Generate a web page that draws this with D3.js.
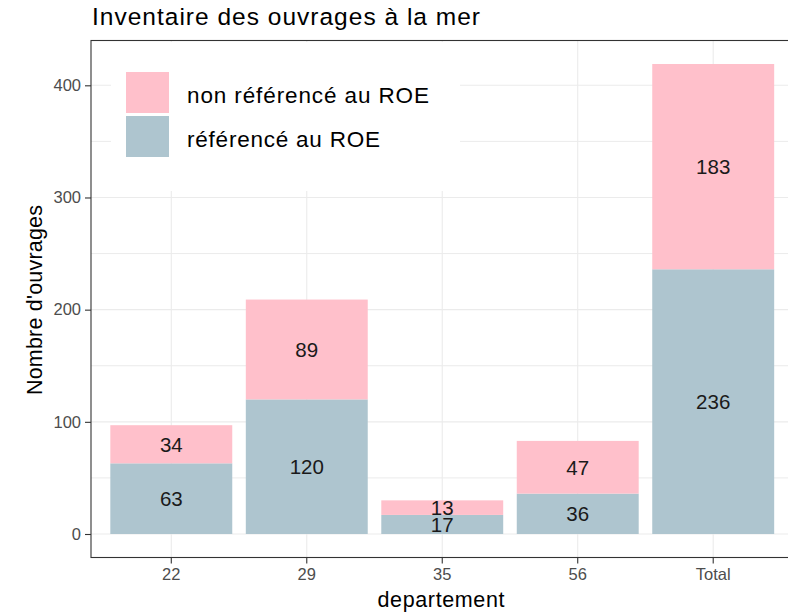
<!DOCTYPE html>
<html>
<head>
<meta charset="utf-8">
<script src="https://cdn.jsdelivr.net/npm/d3@7"></script>
<style>
  body { margin: 0; background: #fff; }
  svg { display: block; font-family: "Liberation Sans", Arial, sans-serif; }
</style>
</head>
<body>
<svg id="chart" width="788" height="613"></svg>
<script>
// data
const departements = ["22", "29", "35", "56", "Total"];
const referenced = [63, 120, 17, 36, 236];
const nonReferenced = [34, 89, 13, 47, 183];
const seriesNames = ["référencé au ROE", "non référencé au ROE"];
const yTicks = [0, 100, 200, 300, 400];
const yMinor = [50, 150, 250, 350];

const colors = {"référencé au ROE": "#aec5cf", "non référencé au ROE": "#ffc0cb"};

const svg = d3.select("#chart");
const panel = {left: 91, top: 40.5, bottom: 557.5};

const rows = departements.map((d, i) => ({
    dep: d,
    "référencé au ROE": referenced[i],
    "non référencé au ROE": nonReferenced[i]
}));

const stacked = d3.stack().keys(seriesNames)(rows);

// ggplot style expansion on both axes
const x = d3.scaleBand()
    .domain(departements)
    .range([90, 794.5])
    .paddingInner(0.1)
    .paddingOuter(0.15);

const maxTotal = d3.max(rows, r => r["référencé au ROE"] + r["non référencé au ROE"]);
const y = d3.scaleLinear()
    .domain([-0.05 * maxTotal, maxTotal * 1.05])
    .range([panel.bottom, panel.top]);

// grid
const grid = svg.append("g");
grid.selectAll("line.minor")
    .data(yMinor)
    .enter()
    .append("line")
    .attr("x1", panel.left).attr("x2", 788)
    .attr("y1", d => y(d)).attr("y2", d => y(d))
    .attr("stroke", "#ebebeb").attr("stroke-width", 1);
grid.selectAll("line.major")
    .data(yTicks)
    .enter()
    .append("line")
    .attr("x1", panel.left).attr("x2", 788)
    .attr("y1", d => y(d)).attr("y2", d => y(d))
    .attr("stroke", "#ebebeb").attr("stroke-width", 1.1);
grid.selectAll("line.vert")
    .data(departements)
    .enter()
    .append("line")
    .attr("x1", d => x(d) + x.bandwidth() / 2).attr("x2", d => x(d) + x.bandwidth() / 2)
    .attr("y1", panel.top).attr("y2", panel.bottom)
    .attr("stroke", "#ebebeb").attr("stroke-width", 1.1);

// bars
const layers = svg.append("g").selectAll("g")
    .data(stacked)
    .enter()
    .append("g")
    .attr("fill", d => colors[d.key]);

layers.selectAll("rect")
    .data(d => d)
    .enter()
    .append("rect")
    .attr("x", d => x(d.data.dep))
    .attr("width", x.bandwidth())
    .attr("y", d => y(d[1]))
    .attr("height", d => y(d[0]) - y(d[1]));

// value labels in the middle of each segment
const labels = svg.append("g");
stacked.forEach(function (layer) {
    labels.selectAll(null)
        .data(layer)
        .enter()
        .append("text")
        .attr("x", d => x(d.data.dep) + x.bandwidth() / 2)
        .attr("y", d => y((d[0] + d[1]) / 2))
        .attr("dy", "0.36em")
        .attr("text-anchor", "middle")
        .attr("font-size", 20.5)
        .attr("fill", "#1a1a1a")
        .text(d => d[1] - d[0]);
});

// legend inside the panel
const legend = svg.append("g");
legend.append("rect")
    .attr("x", 111).attr("y", 42)
    .attr("width", 349).attr("height", 149)
    .attr("fill", "#fff");
const legendOrder = ["non référencé au ROE", "référencé au ROE"];
const legendLen = [242, 193];
legendOrder.forEach(function (name, i) {
    const top = 72 + i * 44;
    legend.append("rect")
        .attr("x", 126).attr("y", top)
        .attr("width", 43).attr("height", 41)
        .attr("fill", colors[name]);
    legend.append("text")
        .attr("x", 187).attr("y", top + 31)
        .attr("font-size", 22.5)
        .attr("fill", "#000")
        .attr("textLength", legendLen[i])
        .attr("lengthAdjust", "spacing")
        .text(name);
});

// panel border
svg.append("rect")
    .attr("x", panel.left).attr("y", panel.top)
    .attr("width", 800).attr("height", panel.bottom - panel.top)
    .attr("fill", "none")
    .attr("stroke", "#333").attr("stroke-width", 1.1);

// axes
const yAxis = svg.append("g")
    .attr("transform", `translate(${panel.left},0)`)
    .call(d3.axisLeft(y).tickValues(yTicks).tickSize(6).tickPadding(4));
const xAxis = svg.append("g")
    .attr("transform", `translate(0,${panel.bottom})`)
    .call(d3.axisBottom(x).tickSize(6).tickPadding(5));

[yAxis, xAxis].forEach(function (ax) {
    ax.select(".domain").remove();
    ax.selectAll(".tick line").attr("stroke", "#333").attr("stroke-width", 1.1);
    ax.selectAll(".tick text")
        .attr("fill", "#4d4d4d")
        .attr("font-size", 16.5)
        .attr("font-family", "Liberation Sans, Arial, sans-serif");
});

// titles
svg.append("text")
    .attr("x", 92).attr("y", 25)
    .attr("font-size", 24.5)
    .attr("textLength", 388)
    .attr("lengthAdjust", "spacing")
    .text("Inventaire des ouvrages à la mer");

svg.append("text")
    .attr("x", 441).attr("y", 607)
    .attr("text-anchor", "middle")
    .attr("font-size", 21.5)
    .attr("textLength", 127)
    .attr("lengthAdjust", "spacing")
    .text("departement");

svg.append("text")
    .attr("transform", "translate(42,300) rotate(-90)")
    .attr("text-anchor", "middle")
    .attr("font-size", 21.5)
    .attr("textLength", 190)
    .attr("lengthAdjust", "spacing")
    .text("Nombre d'ouvrages");
</script>
</body>
</html>
